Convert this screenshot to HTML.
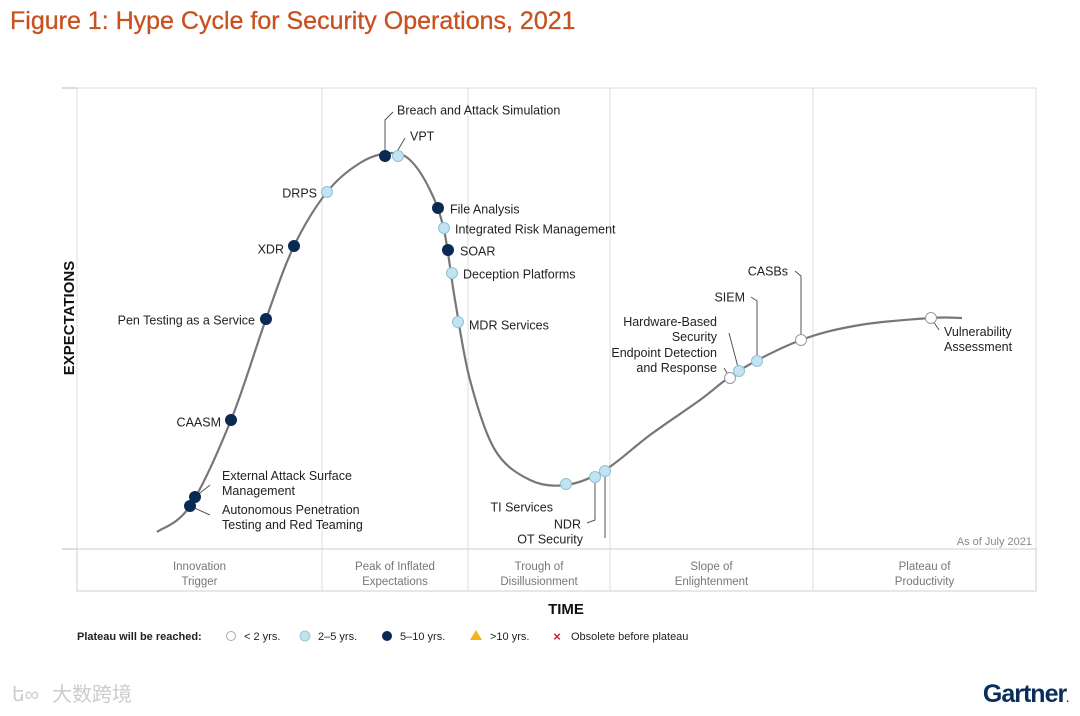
<!DOCTYPE html>
<html><head><meta charset="utf-8"><style>
body{margin:0;background:#fff;}
svg{display:block;font-family:"Liberation Sans",sans-serif;}
</style></head><body>
<svg id="c" width="1080" height="716" viewBox="0 0 1080 716">
<text x="10" y="29" font-size="25" fill="#c9511f" stroke="#c9511f" stroke-width="0.3">Figure 1: Hype Cycle for Security Operations, 2021</text>
<rect x="77" y="88" width="959" height="461" fill="none" stroke="#dcdcdc"/>
<line x1="62" y1="88" x2="77" y2="88" stroke="#bbb"/>
<line x1="62" y1="549" x2="77" y2="549" stroke="#bbb"/>
<rect x="77" y="549" width="959" height="42" fill="#fff" stroke="#cfcfcf"/>
<g id="phases"></g>
<text transform="translate(74,318) rotate(-90)" text-anchor="middle" font-size="15" font-weight="bold" fill="#111">EXPECTATIONS</text>
<text x="566" y="614" text-anchor="middle" font-size="15" font-weight="bold" fill="#111">TIME</text>
<text x="1032" y="545" text-anchor="end" font-size="11" fill="#888">As of July 2021</text>
<g id="curve"></g><g id="leaders"></g><g id="dots"></g><g id="labels"></g>
<g font-size="11" fill="#222">
<text x="77" y="640" font-weight="bold">Plateau will be reached:</text>
<circle cx="231" cy="636" r="4.5" fill="#fff" stroke="#aaa"/><text x="244" y="640">&lt; 2 yrs.</text>
<circle cx="305" cy="636" r="5" fill="#bfe1f0" stroke="#9cc"/><text x="318" y="640">2–5 yrs.</text>
<circle cx="387" cy="636" r="5" fill="#0a2a54"/><text x="400" y="640">5–10 yrs.</text>
<polygon points="476,630 482,640 470,640" fill="#f2b51c"/><text x="490" y="640">&gt;10 yrs.</text>
<text x="557" y="641" text-anchor="middle" font-size="13" font-weight="bold" fill="#d0202a">×</text><text x="571" y="640">Obsolete before plateau</text>
</g>
<text x="52" y="701" font-size="20" fill="#ccc" font-family="'Liberation Sans','Noto Sans CJK SC',sans-serif">大数跨境</text>
<text x="12" y="701" font-size="20" fill="#ccc">ե∞</text>
<text x="1068" y="702" text-anchor="end" font-size="25" font-weight="bold" fill="#0b2d5b" letter-spacing="-1">Gartner<tspan fill="#0b2d5b" font-size="10">.</tspan></text>
</svg>
<script>
// data units: x = time (0..959), y = expectations (0..461)
const phaseNames=[["Innovation","Trigger"],["Peak of Inflated","Expectations"],["Trough of","Disillusionment"],["Slope of","Enlightenment"],["Plateau of","Productivity"]];
const phaseBounds=[0,245,391,533,736,959];
const curveX=[80,113,154,189,217,250,283,313,333,353,367,378,393,418,453,489,528,573,623,663,724,783,854,885];
const curveY=[17,43,129,230,303,357,386,396,389,359,319,249,169,99,69,64,79,114,149,179,209,224,231,231];
const techNames=["Breach and Attack Simulation","VPT","DRPS","XDR","Pen Testing as a Service","CAASM","External Attack Surface Management","Autonomous Penetration Testing and Red Teaming","File Analysis","Integrated Risk Management","SOAR","Deception Platforms","MDR Services","TI Services","NDR","OT Security","Endpoint Detection and Response","Hardware-Based Security","SIEM","CASBs","Vulnerability Assessment"];
const techX=[308,321,250,217,189,154,118,113,361,367,371,375,381,489,518,528,653,662,680,724,854];
const techY=[393,393,357,303,230,129,52,43,341,321,299,276,227,65,72,78,171,178,188,209,231];
const techMaturity=["5-10","2-5","2-5","5-10","5-10","5-10","5-10","5-10","5-10","2-5","5-10","2-5","2-5","2-5","2-5","2-5","<2","2-5","2-5","<2","<2"];
const X0=77,Y0=549;
const xs=v=>X0+v, ys=v=>Y0-v;
const NS="http://www.w3.org/2000/svg";
function mk(t,a,p){const e=document.createElementNS(NS,t);for(const k in a)e.setAttribute(k,a[k]);p.appendChild(e);return e;}
const ph=document.getElementById('phases');
for(let i=0;i<phaseNames.length;i++){
 if(i>0){const l=mk('line',{x1:xs(phaseBounds[i]),x2:xs(phaseBounds[i]),y1:88,y2:591,stroke:'#dcdcdc'},ph);
 
 }
 const cx=xs((phaseBounds[i]+phaseBounds[i+1])/2);
 phaseNames[i].forEach((s,j)=>{const t=mk('text',{x:cx,y:570+j*15,'text-anchor':'middle','font-size':11.5,fill:'#777'},ph);t.textContent=s;
 
 });
}
let d='M'+xs(curveX[0])+','+ys(curveY[0]);
const P=curveX.map((x,i)=>[xs(x),ys(curveY[i])]);
for(let i=0;i<P.length-1;i++){const p0=P[Math.max(0,i-1)],p1=P[i],p2=P[i+1],p3=P[Math.min(P.length-1,i+2)];
 d+=` C${p1[0]+(p2[0]-p0[0])/6},${p1[1]+(p2[1]-p0[1])/6} ${p2[0]-(p3[0]-p1[0])/6},${p2[1]-(p3[1]-p1[1])/6} ${p2[0]},${p2[1]}`;}
const cv=mk('path',{d:d,fill:'none',stroke:'#777','stroke-width':2.2},document.getElementById('curve'));


const lay=[
 [["Breach and Attack Simulation"],12,-46,'start',[[0,-36],[8,-44]]],
 [["VPT"],12,-20,'start',[[0,-6],[7,-18]]],
 [["DRPS"],-10,1,'end'],[["XDR"],-10,3,'end'],[["Pen Testing as a Service"],-11,1,'end'],[["CAASM"],-10,2,'end'],
 [["External Attack Surface","Management"],27,-14,'start',[[15,-12]]],
 [["Autonomous Penetration","Testing and Red Teaming"],32,11,'start',[[20,9]]],
 [["File Analysis"],12,1,'start'],[["Integrated Risk Management"],11,1,'start'],[["SOAR"],12,1,'start'],[["Deception Platforms"],11,1,'start'],[["MDR Services"],11,3,'start'],
 [["TI Services"],-13,23,'end'],
 [["NDR"],-14,47,'end',[[0,43],[-8,46]]],
 [["OT Security"],-22,68,'end',[[0,67]]],
 [["Endpoint Detection","and Response"],-13,-18,'end',[[-6,-10]]],
 [["Hardware-Based","Security"],-22,-42,'end',[[-10,-38]]],
 [["SIEM"],-12,-64,'end',[[0,-60],[-6,-64]]],
 [["CASBs"],-13,-69,'end',[[0,-64],[-6,-69]]],
 [["Vulnerability","Assessment"],13,21,'start',[[8,12]]]
];
const fillFor={"<2":"#fff","2-5":"#c3e3f1","5-10":"#0a2a54"};
const strokeFor={"<2":"#999","2-5":"#8fc3d6","5-10":"#0a2a54"};
const LG=document.getElementById('leaders'),DG=document.getElementById('dots'),TG=document.getElementById('labels');
techNames.forEach((n,i)=>{
 const x=xs(techX[i]),y=ys(techY[i]),L=lay[i];
 if(L[4]){let pd='M'+x+','+y;L[4].forEach(p=>pd+=' L'+(x+p[0])+','+(y+p[1]));
  const pl=mk('path',{d:pd,fill:'none',stroke:'#555','stroke-width':1},LG);
  
  }
 const c=mk('circle',{cx:x,cy:y,r:5.5,fill:fillFor[techMaturity[i]],stroke:strokeFor[techMaturity[i]],'stroke-width':1},DG);
 
 
 const ln=L[0];
 ln.forEach((s,j)=>{const t=mk('text',{x:x+L[1],y:y+L[2]+(j-(ln.length-1)/2)*15+4.5,'text-anchor':L[3],'font-size':12.5,fill:'#222'},TG);t.textContent=s;
  
  });
});
</script>
</body></html>
